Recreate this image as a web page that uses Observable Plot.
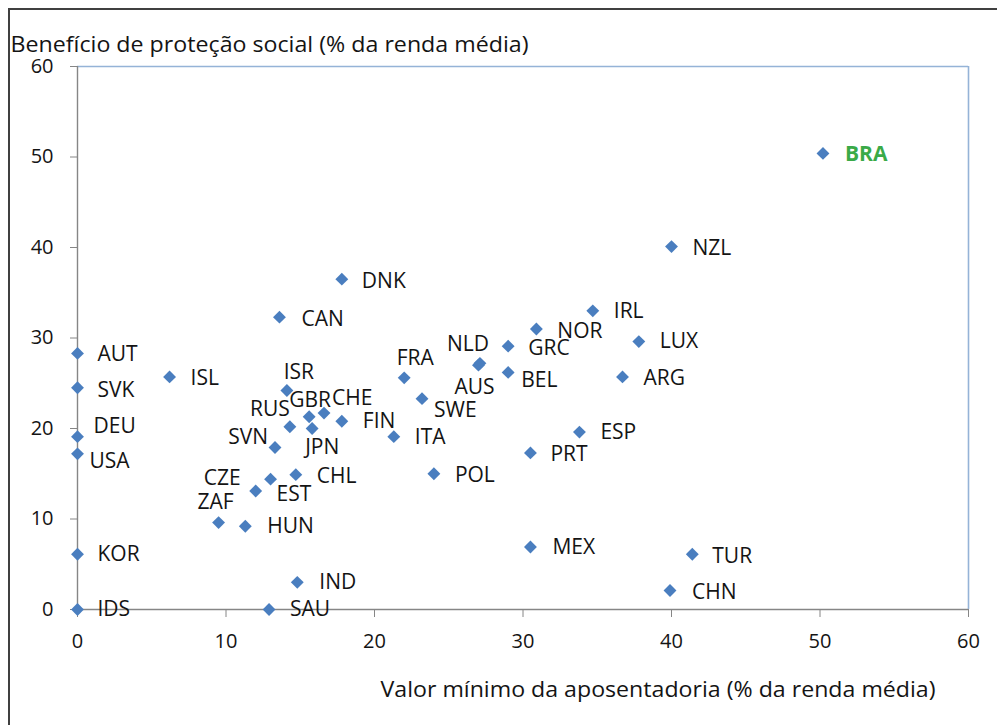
<!DOCTYPE html>
<html><head><meta charset="utf-8">
<script src="https://cdn.jsdelivr.net/npm/d3@7"></script>
<script src="https://cdn.jsdelivr.net/npm/@observablehq/plot@0.6"></script>
<style>
html,body{margin:0;padding:0;background:#fff;overflow:hidden;}
#wrap{position:relative;width:997px;height:725px;overflow:hidden;background:#fff;}
#frame{position:absolute;left:8px;top:8px;width:1200px;height:1200px;border-left:2px solid #404040;border-top:2px solid #404040;}
#chart{position:absolute;left:0;top:0;}
</style></head>
<body><div id="wrap"><div id="frame"></div><div id="chart"></div></div>
<script>
// ---- data ----
const countries = ["BRA","NZL","DNK","CAN","IRL","NOR","GRC","LUX","NLD","AUS","BEL","ARG","FRA","SWE","ISL","AUT","SVK","DEU","USA","ISR","GBR","CHE","RUS","JPN","FIN","ITA","SVN","CZE","EST","CHL","ZAF","HUN","POL","PRT","ESP","MEX","TUR","CHN","IND","SAU","IDS","KOR"];
const minPension = [50.2,40.0,17.8,13.6,34.7,30.9,29.0,37.8,27.1,27.0,29.0,36.7,22.0,23.2,6.2,0,0,0,0,14.1,15.6,16.6,14.3,15.8,17.8,21.3,13.3,12.0,13.0,14.7,9.5,11.3,24.0,30.5,33.8,30.5,41.4,39.9,14.8,12.9,0,0];
const socialBenefit = [50.4,40.1,36.5,32.3,33.0,31.0,29.1,29.6,27.2,27.0,26.2,25.7,25.6,23.3,25.7,28.3,24.5,19.1,17.2,24.2,21.3,21.7,20.2,20.0,20.8,19.1,17.9,13.1,14.4,14.9,9.6,9.2,15.0,17.3,19.6,6.9,6.1,2.1,3.0,0,0,6.1];
const highlight = ["BRA"];
const xTicks = [0,10,20,30,40,50,60];
const yTicks = [0,10,20,30,40,50,60];
const yTitle = "Benefício de proteção social (% da renda média)";
const xTitle = "Valor mínimo da aposentadoria (% da renda média)";

// ---- label placement (layout config: [dx, dy, anchor]) ----
const labelOffsets = {
  BRA:[22,1,"start"], NZL:[21,2,"start"], DNK:[20,2,"start"], CAN:[22,2,"start"],
  IRL:[21,0,"start"], NOR:[21,2,"start"], GRC:[20,2,"start"], LUX:[21,0,"start"],
  NLD:[9,-19,"end"], AUS:[-4,22,"middle"], BEL:[13,8,"start"], ARG:[21,1,"start"],
  FRA:[11,-20,"middle"], SWE:[12,12,"start"], ISL:[21,1,"start"], AUT:[20,1,"start"],
  SVK:[20,2,"start"], DEU:[16,-10,"start"], USA:[12,7,"start"], ISR:[12,-18,"middle"],
  GBR:[1,-16,"middle"], CHE:[8,-15,"start"], RUS:[0,-17,"end"], JPN:[-7,19,"start"],
  FIN:[21,0,"start"], ITA:[21,1,"start"], SVN:[-7,-10,"end"], CZE:[-15,-13,"end"],
  EST:[6,15,"start"], CHL:[21,2,"start"], ZAF:[-3,-20,"middle"], HUN:[22,0,"start"],
  POL:[21,2,"start"], PRT:[20,1,"start"], ESP:[21,0,"start"], MEX:[22,0,"start"],
  TUR:[20,2,"start"], CHN:[22,2,"start"], IND:[22,0,"start"], SAU:[21,0,"start"],
  IDS:[20,0,"start"], KOR:[20,0,"start"]
};

const rows = countries.map((c,i)=>({c, x:minPension[i], y:socialBenefit[i]}));

const labelMarks = rows.map(r => {
  const [dx,dy,anchor] = labelOffsets[r.c];
  const hl = highlight.includes(r.c);
  return Plot.text([r], {x:"x", y:"y", text:"c", dx, dy, textAnchor:anchor,
    fontSize:21, fill: hl ? "#3aaa48" : "#141414", fontWeight: hl ? "bold" : "500"});
});

const chart = Plot.plot({
  width:997, height:725,
  marginLeft:77, marginRight:29, marginTop:66, marginBottom:116,
  style:{fontFamily:"'Open Sans', sans-serif", background:"transparent", overflow:"visible"},
  x:{domain:[0,60], nice:false},
  y:{domain:[0,60], nice:false},
  marks:[
    Plot.ruleY([60], {stroke:"#95b3d7", strokeWidth:1.6}),
    Plot.ruleX([60], {stroke:"#95b3d7", strokeWidth:1.6}),
    Plot.axisX({ticks:xTicks, tickSize:8, tickPadding:16, fontSize:20, stroke:"#868686", fill:"#141414", label:null, tickFormat:d=>String(d)}),
    Plot.axisY({ticks:yTicks, tickSize:7, tickPadding:17, fontSize:20, stroke:"#868686", fill:"#141414", label:null, tickFormat:d=>String(d)}),
    Plot.ruleX([0], {stroke:"#868686", strokeWidth:1.4}),
    Plot.ruleY([0], {stroke:"#868686", strokeWidth:1.4}),
    Plot.dot(rows, {x:"x", y:"y", symbol:"diamond2", r:5.8, fill:"#4a7ebf", stroke:null}),
    ...labelMarks,
    Plot.text([yTitle], {text:d=>d, frameAnchor:"top-left", dx:-67, dy:-21, textAnchor:"start", lineAnchor:"middle", fontSize:21, fill:"#141414"}),
    Plot.text([xTitle], {text:d=>d, frameAnchor:"bottom-right", dx:-33, dy:80, textAnchor:"end", lineAnchor:"middle", fontSize:22, fill:"#141414"})
  ]
});

d3.select(chart).selectAll("text").filter(function(){return this.textContent===yTitle;})
  .attr("textLength",518).attr("lengthAdjust","spacingAndGlyphs");
d3.select(chart).selectAll("text").filter(function(){return this.textContent===xTitle;})
  .attr("textLength",555).attr("lengthAdjust","spacingAndGlyphs");

document.getElementById("chart").appendChild(chart);
</script>
</body></html>
